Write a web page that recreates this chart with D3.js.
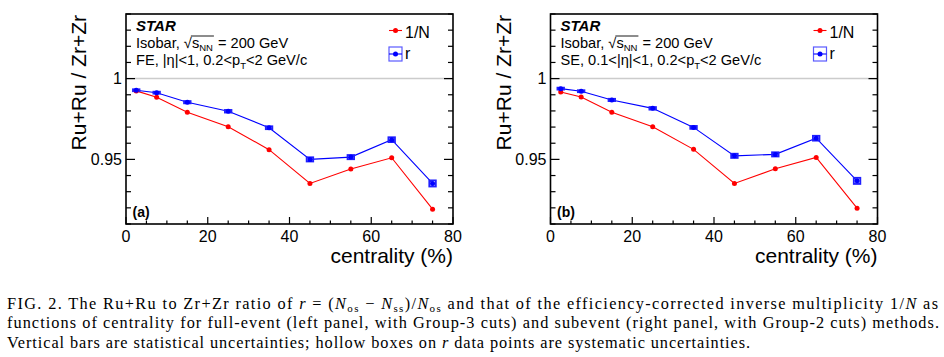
<!DOCTYPE html>
<html>
<head>
<meta charset="utf-8">
<script src="https://cdn.jsdelivr.net/npm/d3@7"></script>
<style>
  html, body { margin: 0; padding: 0; background: #fff; }
  svg { display: block; }
</style>
</head>
<body>
<svg id="chart" width="944" height="357"></svg>
<script>
// ---------------- data ----------------
const centrality = [2.5, 7.5, 15, 25, 35, 45, 55, 65, 75];
const feInvN = [0.9924, 0.9885, 0.9792, 0.9702, 0.9560, 0.9351, 0.9440, 0.9510, 0.9192];
const feR    = [0.9928, 0.9913, 0.9854, 0.9798, 0.9696, 0.9500, 0.9514, 0.9622, 0.9351];
const seInvN = [0.9917, 0.9886, 0.9792, 0.9702, 0.9562, 0.9351, 0.9442, 0.9512, 0.9198];
const seR    = [0.9938, 0.9922, 0.9868, 0.9816, 0.9698, 0.9522, 0.9531, 0.9631, 0.9367];
const feRSyst = [0.0006, 0.0006, 0.0007, 0.0008, 0.0009, 0.0013, 0.0013, 0.0015, 0.0019];
const seRSyst = [0.0006, 0.0006, 0.0007, 0.0008, 0.0009, 0.0013, 0.0013, 0.0015, 0.0019];
const statErr = [0.0003, 0.0003, 0.0003, 0.0003, 0.0004, 0.0004, 0.0005, 0.0006, 0.0008];
const xTickLabels = ["0", "20", "40", "60", "80"];
const yTickValues = [0.95, 1.0];
const yTickLabels = ["0.95", "1"];
const panelTags = ["(a)", "(b)"];
const etaText = ["FE, |\u03B7|<1, 0.2<p", "SE, 0.1<|\u03B7|<1, 0.2<p"];
const legendLabels = ["1/N", "r"];

// ---------------- drawing ----------------
const svg = d3.select("#chart");
const SANS = "'Liberation Sans', Arial, Helvetica, sans-serif";
const SERIF = "'Liberation Serif', 'Times New Roman', serif";
const RED = "#ff0000", BLUE = "#0000ff";

function drawPanel(ox, invN, rVals, rSyst, tag, etaStr) {
  const left = 126 + ox, right = 453 + ox, top = 14, bottom = 224;
  const x = d3.scaleLinear().domain([0, 80]).range([left, right]);
  const y = d3.scaleLinear().domain([0.91, 1.04]).range([bottom, top]);
  const g = svg.append("g");

  // reference line at 1
  g.append("line").attr("x1", left).attr("x2", right)
    .attr("y1", y(1)).attr("y2", y(1))
    .attr("stroke", "#cccccc").attr("stroke-width", 1.5);

  // ticks
  const minorX = d3.range(0, 80.01, 5);
  g.selectAll(".xt").data(minorX).join("line")
    .attr("x1", d => x(d)).attr("x2", d => x(d))
    .attr("y1", bottom).attr("y2", d => bottom - (d % 20 === 0 ? 7 : 3.5))
    .attr("stroke", "#000").attr("stroke-width", 1.2);
  const minorY = d3.range(0.91, 1.0401, 0.01).map(v => Math.round(v * 100) / 100);
  const isMajorY = v => Math.abs(v - 0.95) < 1e-6 || Math.abs(v - 1) < 1e-6;
  g.selectAll(".ytl").data(minorY).join("line")
    .attr("x1", left).attr("x2", d => left + (isMajorY(d) ? 9 : 5))
    .attr("y1", d => y(d)).attr("y2", d => y(d))
    .attr("stroke", "#000").attr("stroke-width", 1.2);
  g.selectAll(".ytr").data(minorY).join("line")
    .attr("x1", right).attr("x2", d => right - (isMajorY(d) ? 9 : 5))
    .attr("y1", d => y(d)).attr("y2", d => y(d))
    .attr("stroke", "#000").attr("stroke-width", 1.2);

  // tick labels
  g.selectAll(".xl").data(xTickLabels).join("text")
    .attr("x", (d, i) => x(i * 20)).attr("y", 241.5)
    .attr("text-anchor", "middle").attr("font-family", SANS).attr("font-size", 16)
    .text(d => d);
  g.selectAll(".yl").data(yTickValues).join("text")
    .attr("x", left - 4).attr("y", d => y(d) + 5.6)
    .attr("text-anchor", "end").attr("font-family", SANS).attr("font-size", 16)
    .text((d, i) => yTickLabels[i]);

  // axis titles
  g.append("text").attr("x", right).attr("y", 263)
    .attr("text-anchor", "end").attr("font-family", SANS).attr("font-size", 21)
    .text("centrality (%)");
  g.append("text").attr("transform", `translate(${86 + ox},15) rotate(-90)`)
    .attr("text-anchor", "end").attr("font-family", SANS).attr("font-size", 21)
    .text("Ru+Ru / Zr+Zr");

  // stat error bars
  const pts = (vals) => centrality.map((c, i) => ({ c, v: vals[i], e: statErr[i], s: rSyst[i] }));
  g.selectAll(".eb1").data(pts(invN)).join("line")
    .attr("x1", d => x(d.c)).attr("x2", d => x(d.c))
    .attr("y1", d => y(d.v - d.e)).attr("y2", d => y(d.v + d.e))
    .attr("stroke", RED).attr("stroke-width", 1);
  g.selectAll(".eb2").data(pts(rVals)).join("line")
    .attr("x1", d => x(d.c)).attr("x2", d => x(d.c))
    .attr("y1", d => y(d.v - d.e)).attr("y2", d => y(d.v + d.e))
    .attr("stroke", BLUE).attr("stroke-width", 1);

  // lines
  const line = d3.line().x(d => x(d.c)).y(d => y(d.v));
  g.append("path").datum(pts(invN)).attr("d", line)
    .attr("fill", "none").attr("stroke", RED).attr("stroke-width", 1.1);
  g.append("path").datum(pts(rVals)).attr("d", line)
    .attr("fill", "none").attr("stroke", BLUE).attr("stroke-width", 1.1);

  // systematic boxes on r
  const hw = 0.8;
  g.selectAll(".sb").data(pts(rVals)).join("rect")
    .attr("x", d => x(d.c - hw)).attr("width", d => x(d.c + hw) - x(d.c - hw))
    .attr("y", d => y(d.v + d.s)).attr("height", d => y(d.v - d.s) - y(d.v + d.s))
    .attr("fill", "none").attr("stroke", "#2020ff").attr("stroke-width", 1.8);

  // markers
  g.selectAll(".m1").data(pts(invN)).join("circle")
    .attr("cx", d => x(d.c)).attr("cy", d => y(d.v)).attr("r", 2.5).attr("fill", RED);
  g.selectAll(".m2").data(pts(rVals)).join("circle")
    .attr("cx", d => x(d.c)).attr("cy", d => y(d.v)).attr("r", 2.5).attr("fill", BLUE);

  // frame
  g.append("rect").attr("x", left).attr("y", top)
    .attr("width", right - left).attr("height", bottom - top)
    .attr("fill", "none").attr("stroke", "#000").attr("stroke-width", 1.6);

  // annotations
  const tx = left + 10;
  g.append("text").attr("x", tx).attr("y", 31)
    .attr("font-family", SANS).attr("font-size", 15).attr("font-weight", "bold")
    .attr("font-style", "italic").text("STAR");

  const t2 = g.append("text").attr("x", tx).attr("y", 48.3)
    .attr("font-family", SANS).attr("font-size", 14.6);
  t2.append("tspan").text("Isobar, \u221A");
  const sS = t2.append("tspan").text("s");
  const sNN = t2.append("tspan").attr("font-size", 9.5).attr("dy", 2.5).text("NN");
  t2.append("tspan").attr("dy", -2.5).attr("dx", 1).text(" = 200 GeV");
  const x0 = sS.node().getStartPositionOfChar(0).x;
  const x1 = sNN.node().getEndPositionOfChar(1).x;
  g.append("line").attr("x1", x0 - 1).attr("x2", x1 + 1)
    .attr("y1", 48.3 - 12.3).attr("y2", 48.3 - 12.3)
    .attr("stroke", "#000").attr("stroke-width", 0.9);

  const t3 = g.append("text").attr("x", tx).attr("y", 65.2)
    .attr("font-family", SANS).attr("font-size", 14.6);
  t3.append("tspan").text(etaStr);
  t3.append("tspan").attr("font-size", 9.5).attr("dy", 4).text("T");
  t3.append("tspan").attr("dy", -4).text("<2 GeV/c");

  g.append("text").attr("x", left + 6.5).attr("y", 216.5)
    .attr("font-family", SANS).attr("font-size", 14).attr("font-weight", "bold")
    .text(tag);

  // legend
  const lx = left + 263;
  g.append("line").attr("x1", lx).attr("x2", lx + 13).attr("y1", 30.5).attr("y2", 30.5)
    .attr("stroke", RED).attr("stroke-width", 1.1);
  g.append("circle").attr("cx", lx + 6.5).attr("cy", 30.5).attr("r", 2.5).attr("fill", RED);
  g.append("text").attr("x", lx + 16).attr("y", 37.5)
    .attr("font-family", SANS).attr("font-size", 16).text(legendLabels[0]);
  g.append("rect").attr("x", lx).attr("y", 47).attr("width", 13).attr("height", 14)
    .attr("fill", "none").attr("stroke", "#5a5aff").attr("stroke-width", 1.2);
  g.append("line").attr("x1", lx).attr("x2", lx + 13).attr("y1", 54).attr("y2", 54)
    .attr("stroke", BLUE).attr("stroke-width", 1.1);
  g.append("circle").attr("cx", lx + 6.5).attr("cy", 54).attr("r", 2.5).attr("fill", BLUE);
  g.append("text").attr("x", lx + 16).attr("y", 59)
    .attr("font-family", SANS).attr("font-size", 16).text(legendLabels[1]);
}

drawPanel(0, feInvN, feR, feRSyst, panelTags[0], etaText[0]);
drawPanel(424.5, seInvN, seR, seRSyst, panelTags[1], etaText[1]);

// ---------------- caption ----------------
const captionLines = [
  { y: 309, len: 931, parts: [
    { t: "FIG. 2.  The Ru+Ru to Zr+Zr ratio of " }, { t: "r", i: true }, { t: " = (" },
    { t: "N", i: true }, { t: "os", sub: true }, { t: " \u2212 " }, { t: "N", i: true }, { t: "ss", sub: true },
    { t: ")/" }, { t: "N", i: true }, { t: "os", sub: true },
    { t: " and that of the efficiency-corrected inverse multiplicity 1/" }, { t: "N", i: true }, { t: " as" } ] },
  { y: 328.3, len: 932, parts: [
    { t: "functions of centrality for full-event (left panel, with Group-3 cuts) and subevent (right panel, with Group-2 cuts) methods." } ] },
  { y: 347.5, len: 743, parts: [
    { t: "Vertical bars are statistical uncertainties; hollow boxes on " }, { t: "r", i: true },
    { t: " data points are systematic uncertainties." } ] }
];
captionLines.forEach(line => {
  const t = svg.append("text").attr("x", 7).attr("y", line.y)
    .attr("font-family", SERIF).attr("font-size", 16.3).attr("fill", "#000")
    .attr("textLength", line.len).attr("lengthAdjust", "spacing");
  let shifted = false;
  line.parts.forEach(p => {
    const ts = t.append("tspan").text(p.t);
    if (p.i) ts.attr("font-style", "italic");
    if (p.sub) { ts.attr("font-size", 11).attr("dy", 2.5); shifted = true; }
    else if (shifted) { ts.attr("dy", -2.5); shifted = false; }
  });
});
</script>
</body>
</html>
